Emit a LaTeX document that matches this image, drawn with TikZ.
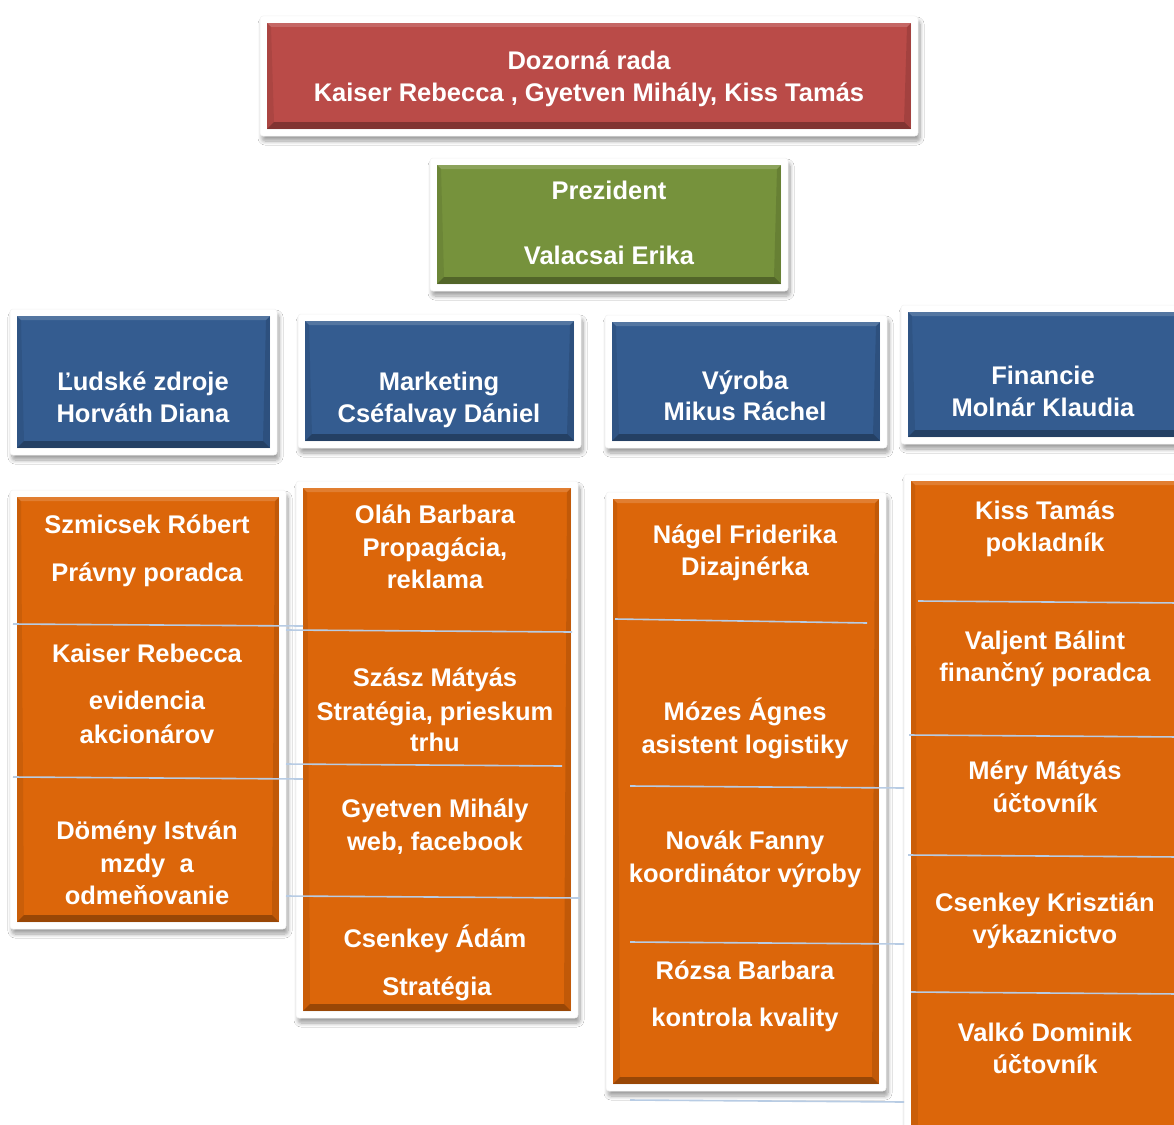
\documentclass[tikz,border=0pt]{standalone}
\usepackage{fontspec}
\setmainfont{Liberation Sans}
\usetikzlibrary{shadows.blur}
\definecolor{redC}{RGB}{186,75,72}
\definecolor{greenC}{RGB}{118,146,60}
\definecolor{blueC}{RGB}{52,92,144}
\definecolor{orangeC}{RGB}{220,102,10}
\definecolor{sepC}{RGB}{184,204,228}
\tikzset{
  frame/.style={rectangle, inner sep=0pt, outer sep=0pt, fill=white, draw=black!5, line width=0.5pt, rounded corners=3pt,
    blur shadow={shadow xshift=2pt, shadow yshift=-5pt, shadow blur radius=4pt, shadow blur steps=8, shadow opacity=38}},
  bevel/.style={rectangle, inner sep=0pt, outer sep=0pt, fill=#1, path picture={
    \fill[black,opacity=.30] (path picture bounding box.south west) -- (path picture bounding box.south east)
       -- ([xshift=-7pt,yshift=7pt]path picture bounding box.south east) -- ([xshift=7pt,yshift=7pt]path picture bounding box.south west) -- cycle;
    \fill[white,opacity=.16] (path picture bounding box.north west) -- (path picture bounding box.north east)
       -- ([xshift=-4pt,yshift=-4pt]path picture bounding box.north east) -- ([xshift=4pt,yshift=-4pt]path picture bounding box.north west) -- cycle;
    \fill[black,opacity=.12] (path picture bounding box.north east) -- (path picture bounding box.south east)
       -- ([xshift=-7pt,yshift=7pt]path picture bounding box.south east) -- ([xshift=-4pt,yshift=-4pt]path picture bounding box.north east) -- cycle;
    \fill[black,opacity=.08] (path picture bounding box.north west) -- (path picture bounding box.south west)
       -- ([xshift=7pt,yshift=7pt]path picture bounding box.south west) -- ([xshift=4pt,yshift=-4pt]path picture bounding box.north west) -- cycle;
  }},
  lbl/.style={text=white, font=\bfseries\fontsize{25.5}{30}\selectfont, anchor=base, inner sep=0pt},
  sepline/.style={draw=sepC, line width=1.6pt}
}
% name, x1, y1, x2, y2, colour (inner rectangle)
\newcommand\orgbox[6]{%
  \node[frame, minimum width={#4-#2+14}, minimum height={#5-#3+14}] (#1frame) at ({(#2+#4)/2},{(#3+#5)/2}) {};
  \node[bevel=#6, minimum width={#4-#2}, minimum height={#5-#3}] (#1) at ({(#2+#4)/2},{(#3+#5)/2}) {};
}
\newcommand\txtline[4]{\node[lbl] (#1) at (#2,#3) {#4};}
\begin{document}
\begin{tikzpicture}[x=1pt,y=-1pt]
\useasboundingbox (0,0) rectangle (1174,1124);
\clip (0,0) rectangle (1174,1124);
\fill[white] (0,0) rectangle (1174,1124);

\orgbox{rada}{267}{23}{911}{129}{redC}
\orgbox{prez}{437}{165}{781}{284}{greenC}
\orgbox{hr}{17}{316}{270}{448}{blueC}
\orgbox{mkt}{305}{321}{574}{441}{blueC}
\orgbox{vyr}{612}{322}{880}{441}{blueC}
\orgbox{fin}{908}{312}{1190}{437}{blueC}
\orgbox{colA}{17}{497}{279}{922}{orangeC}
\orgbox{colB}{303}{488}{571}{1011}{orangeC}
\orgbox{colC}{613}{499}{879}{1084}{orangeC}
\orgbox{colD}{911}{481}{1190}{1150}{orangeC}

% separator lines
\draw[sepline] (13,624) -- (303,626);
\draw[sepline] (13,777) -- (303,779);
\draw[sepline] (286,630) -- (572,632);
\draw[sepline] (286,764) -- (562,766);
\draw[sepline] (286,896) -- (580,898);
\draw[sepline] (615,619) -- (867,623);
\draw[sepline] (630,786) -- (904,788);
\draw[sepline] (630,942) -- (904,944);
\draw[sepline] (630,1100) -- (904,1102);
\draw[sepline] (918,601) -- (1180,603);
\draw[sepline] (909,735) -- (1180,737);
\draw[sepline] (908,855) -- (1180,857);
\draw[sepline] (911,992) -- (1180,994);

% texts
\txtline{t1}{589}{69}{Dozorná rada}
\txtline{t2}{589}{101}{Kaiser Rebecca , Gyetven Mihály, Kiss Tamás}
\txtline{t3}{609}{199}{Prezident}
\txtline{t4}{609}{264}{Valacsai Erika}
\txtline{t5}{143}{390}{Ľudské zdroje}
\txtline{t6}{143}{422}{Horváth Diana}
\txtline{t7}{439}{390}{Marketing}
\txtline{t8}{439}{422}{Cséfalvay Dániel}
\txtline{t9}{745}{389}{Výroba}
\txtline{t10}{745}{420}{Mikus Ráchel}
\txtline{t11}{1043}{384}{Financie}
\txtline{t12}{1043}{416}{Molnár Klaudia}

\txtline{a1}{147}{533}{Szmicsek Róbert}
\txtline{a2}{147}{581}{Právny poradca}
\txtline{a3}{147}{662}{Kaiser Rebecca}
\txtline{a4}{147}{709}{evidencia}
\txtline{a5}{147}{743}{akcionárov}
\txtline{a6}{147}{839}{Dömény István}
\txtline{a7}{147}{872}{mzdy\ \ a}
\txtline{a8}{147}{904}{odmeňovanie}

\txtline{b1}{435}{523}{Oláh Barbara}
\txtline{b2}{435}{556}{Propagácia,}
\txtline{b3}{435}{588}{reklama}
\txtline{b4}{435}{686}{Szász Mátyás}
\txtline{b5}{435}{720}{Stratégia, prieskum}
\txtline{b6}{435}{751}{trhu}
\txtline{b7}{435}{817}{Gyetven Mihály}
\txtline{b8}{435}{850}{web, facebook}
\txtline{b9}{435}{947}{Csenkey Ádám}
\txtline{b10}{437}{995}{Stratégia}

\txtline{c1}{745}{543}{Nágel Friderika}
\txtline{c2}{745}{575}{Dizajnérka}
\txtline{c3}{745}{720}{Mózes Ágnes}
\txtline{c4}{745}{753}{asistent logistiky}
\txtline{c5}{745}{849}{Novák Fanny}
\txtline{c6}{745}{882}{koordinátor výroby}
\txtline{c7}{745}{979}{Rózsa Barbara}
\txtline{c8}{745}{1026}{kontrola kvality}

\txtline{d1}{1045}{519}{Kiss Tamás}
\txtline{d2}{1045}{551}{pokladník}
\txtline{d3}{1045}{649}{Valjent Bálint}
\txtline{d4}{1045}{681}{finančný poradca}
\txtline{d5}{1045}{779}{Méry Mátyás}
\txtline{d6}{1045}{812}{účtovník}
\txtline{d7}{1045}{911}{Csenkey Krisztián}
\txtline{d8}{1045}{943}{výkaznictvo}
\txtline{d9}{1045}{1041}{Valkó Dominik}
\txtline{d10}{1045}{1073}{účtovník}
\end{tikzpicture}
\end{document}
